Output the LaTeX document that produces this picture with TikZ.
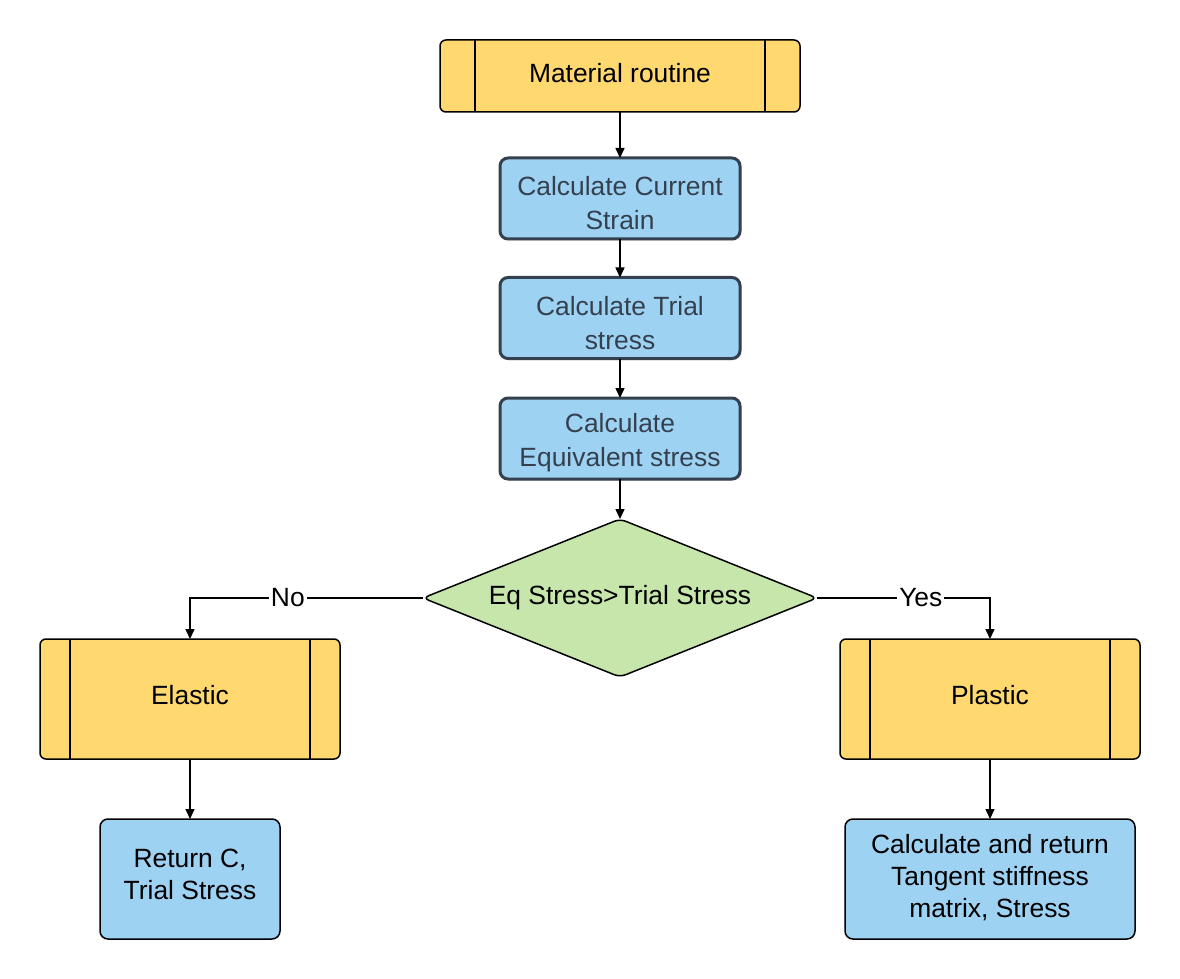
\documentclass[tikz,border=0pt]{standalone}
\usepackage{fontspec}
\setmainfont{Liberation Sans}
\usetikzlibrary{arrows.meta,shapes.geometric,shadows}
\definecolor{ylw}{RGB}{255,217,112}
\definecolor{blu}{RGB}{158,210,243}
\definecolor{grn}{RGB}{198,230,172}
\definecolor{slate}{RGB}{52,64,78}
\newcommand{\downstrut}{\rule{0pt}{14.2pt}}
\newcommand{\updepth}[1]{\rule[-#1]{0pt}{#1}}
\begin{document}
\begin{tikzpicture}[x=0.5pt,y=-0.5pt,
  every node/.style={font=\fontsize{13.2}{16.5}\selectfont, align=center, inner sep=0pt, outer sep=0pt},
  subproc/.style={draw=black, line width=0.75pt, fill=ylw, rounded corners=3pt,
    path picture={
      \draw[line width=0.75pt] ([xshift=#1]path picture bounding box.north west) -- ([xshift=#1]path picture bounding box.south west);
      \draw[line width=0.75pt] ([xshift=-#1]path picture bounding box.north east) -- ([xshift=-#1]path picture bounding box.south east);}},
  calcbox/.style={draw=slate, line width=1.5pt, fill=blu, rounded corners=4pt, text=slate,
    font=\fontsize{13.2}{17}\selectfont,
    minimum width=120pt, minimum height=40.5pt,
    drop shadow={shadow xshift=0.8pt, shadow yshift=-0.8pt, opacity=0.25}},
  retbox/.style={draw=black, line width=0.75pt, fill=blu, rounded corners=4pt, minimum height=60pt,
    font=\fontsize{13.2}{16}\selectfont},
  conn/.style={line width=0.75pt, -{Triangle[length=5pt,width=4.5pt]}},
  lbl/.style={fill=white, inner sep=1pt}
]
\useasboundingbox (0,0) rectangle (1180,979);
\node[subproc=17.5pt, minimum width=180pt, minimum height=36pt] (top) at (620,76) {Material routine\updepth{3pt}};
\node[calcbox] (b1) at (620,198.5) {\downstrut Calculate Current\\Strain};
\node[calcbox] (b2) at (620,318) {\downstrut Calculate Trial\\stress};
\node[calcbox] (b3) at (620,438.5) {\downstrut Calculate\\Equivalent stress};
\node[diamond, draw=black, line width=0.75pt, fill=grn, rounded corners=3pt, aspect=2.5,
  minimum width=197pt, minimum height=79pt] (dia) at (620,598) {Eq Stress>Trial Stress};
\node[subproc=15pt, minimum width=150pt, minimum height=60pt] (el) at (190,699) {Elastic\updepth{4pt}};
\node[subproc=15pt, minimum width=150pt, minimum height=60pt] (pl) at (990,699) {Plastic\updepth{4pt}};
\node[retbox, minimum width=90pt] (r1) at (190,879) {Return C,\\Trial Stress\updepth{4.5pt}};
\node[retbox, minimum width=145pt] (r2) at (990,879) {Calculate and return\\Tangent stiffness\\matrix, Stress\updepth{3.4pt}};
\draw[conn] (top) -- (b1);
\draw[conn] (b1) -- (b2);
\draw[conn] (b2) -- (b3);
\draw[conn] (b3) -- (dia);
\draw[conn] (dia.west) -| node[lbl, pos=0.29] {No} (el.north);
\draw[conn] (dia.east) -| node[lbl, pos=0.30] {Yes} (pl.north);
\draw[conn] (el) -- (r1);
\draw[conn] (pl) -- (r2);
\end{tikzpicture}
\end{document}
